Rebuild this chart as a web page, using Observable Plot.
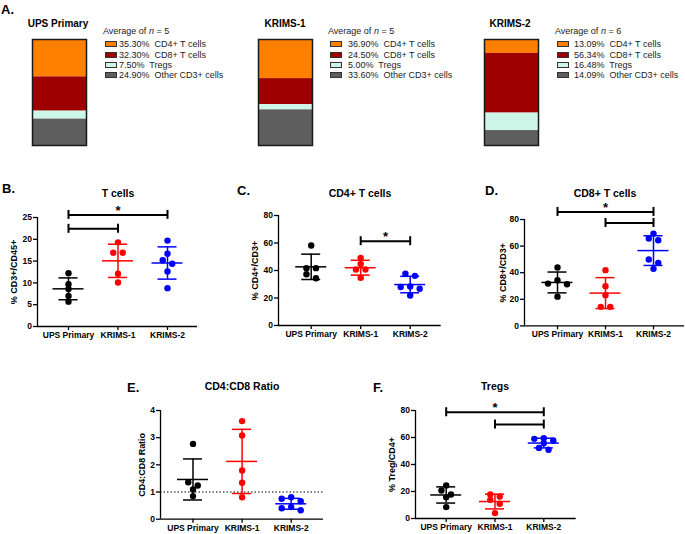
<!DOCTYPE html>
<html><head><meta charset="utf-8">
<script src="https://cdn.jsdelivr.net/npm/d3@7"></script>
<script src="https://cdn.jsdelivr.net/npm/@observablehq/plot@0.6"></script>
<style>
body{margin:0;background:#fff;}
#fig{position:relative;width:685px;height:534px;overflow:hidden;font-family:"Liberation Sans",Arial,sans-serif;color:#000;background:#fff;}
.t{position:absolute;white-space:pre;line-height:1;}
.sw{position:absolute;width:10px;height:4px;border:1px solid #333;}
</style></head>
<body><div id="fig"></div>
<script>
// ---------- data ----------
const groups = ["UPS Primary", "KRIMS-1", "KRIMS-2"];
const groupColors = ["#000000", "#ff0000", "#0000ff"];

// Panel A: average composition (%)
const cellTypes = ["CD4+ T cells", "CD8+ T cells", "Tregs", "Other CD3+ cells"];
const cellColors = ["#ff8000", "#9e0000", "#cdf6e8", "#5e5e5e"];
const compUPS = [35.30, 32.30, 7.50, 24.90];
const compKRIMS1 = [36.90, 24.50, 5.00, 33.60];
const compKRIMS2 = [13.09, 56.34, 16.48, 14.09];
const compN = [5, 5, 6];

// Panel B: % CD3+/CD45+
const tcellsPct = [[12.2, 9.7, 8.6, 7.0, 5.7], [19.3, 16.9, 16.9, 12.1, 10.1], [19.7, 16.7, 15.2, 14.4, 12.6, 8.8]];
const tcellsTicks = [0, 5, 10, 15, 20, 25];
const tcellsSig = [[0, 2, 25.6], [0, 1, 22.4]];

// Panel C: % CD4+/CD3+
const cd4Pct = [[58.2, 41.7, 41.7, 37.3, 34.4], [49.2, 44.8, 40.7, 40.7, 34.7], [37.6, 36.1, 28.4, 28.0, 26.7, 21.8]];
const cd4Ticks = [0, 20, 40, 60, 80];
const cd4Sig = [[1, 2, 61.3]];

// Panel D: % CD8+/CD3+
const cd8Pct = [[43.9, 34.3, 31.8, 31.3, 22.0], [41.9, 29.8, 23.0, 14.3, 14.3], [69.4, 65.7, 64.4, 49.9, 47.4, 42.9]];
const cd8Ticks = [0, 20, 40, 60, 80];
const cd8Sig = [[0, 2, 85.7], [1, 2, 77.4]];

// Panel E: CD4:CD8 ratio
const ratioVals = [[2.77, 1.36, 1.24, 1.09, 0.85], [3.61, 3.08, 1.79, 1.34, 0.81], [0.81, 0.75, 0.66, 0.45, 0.40, 0.33]];
const ratioTicks = [0, 1, 2, 3, 4];
const ratioSig = [];
const ratioRef = 1;

// Panel F: % Treg/CD4+
const tregPct = [[24.4, 20.7, 17.8, 15.8, 8.4], [17.8, 16.3, 13.8, 10.9, 4.0], [59.5, 59.0, 57.8, 55.8, 52.3, 50.9]];
const tregTicks = [0, 20, 40, 60, 80];
const tregSig = [[0, 2, 78.7], [1, 2, 69.6]];

// ---------- layout ----------
const FONT = '"Liberation Sans", Arial, sans-serif';
const fig = document.getElementById("fig");
function place(node, left, top) {
  node.style.position = "absolute";
  node.style.left = left + "px";
  node.style.top = top + "px";
  fig.appendChild(node);
}
function txt(str, x, y, css, anchor = "middle") {
  const d = document.createElement("div");
  d.className = "t";
  d.innerHTML = str;
  d.style.cssText += css;
  const tx = anchor === "middle" ? "-50%" : anchor === "end" ? "-100%" : "0";
  d.style.left = x + "px";
  d.style.top = y + "px";
  d.style.transform = `translate(${tx},-50%)`;
  fig.appendChild(d);
  return d;
}

// panel letters
const letterCss = "font-weight:bold;font-size:13px;";
txt("A.", 1, 9, letterCss, "start");
txt("B.", 2, 188, letterCss, "start");
txt("C.", 237, 190, letterCss, "start");
txt("D.", 485, 190, letterCss, "start");
txt("E.", 127, 387, letterCss, "start");
txt("F.", 373, 387, letterCss, "start");

// ---------- Panel A ----------
const comps = [compUPS, compKRIMS1, compKRIMS2];
const aLayout = [
  {barX: 32, titleX: 58, avgX: 103, swX: 105, txtX: 119},
  {barX: 258, titleX: 285, avgX: 328, swX: 330, txtX: 348},
  {barX: 484, titleX: 510, avgX: 555, swX: 557, txtX: 574}
];
comps.forEach((comp, gi) => {
  const L = aLayout[gi];
  const rows = comp.map((pct, k) => ({type: cellTypes[k], pct, color: cellColors[k]}));
  const svg = Plot.plot({
    width: 56, height: 108, margin: 1,
    y: {axis: null, domain: [0, 100], reverse: true},
    color: {type: "identity"},
    style: {background: "transparent", overflow: "visible"},
    marks: [
      Plot.barY(rows, {y: "pct", fill: "color"}),
      Plot.frame({stroke: "#1a1a1a", strokeWidth: 1.5})
    ]
  });
  place(svg, L.barX - 1, 38);
  txt(groups[gi], L.titleX, 23.5, "font-weight:bold;font-size:10px;");
  txt(`Average of <i>n</i> = ${compN[gi]}`, L.avgX, 31, "font-size:9px;color:#222;", "start");
  comp.forEach((pct, k) => {
    const y = 44.3 + k * 10.25;
    const s = document.createElement("div");
    s.className = "sw";
    s.style.background = cellColors[k];
    s.style.left = L.swX + "px";
    s.style.top = (y - 3) + "px";
    fig.appendChild(s);
    txt(`${pct.toFixed(2)}%  ${cellTypes[k]}`, L.txtX, y, "font-size:9px;color:#222;", "start");
  });
});

// ---------- scatter panels ----------
function rowOffsets(vals, ppu, T, s) {
  const idx = vals.map((v, i) => i).sort((a, b) => vals[b] - vals[a]);
  const off = new Array(vals.length).fill(0);
  let row = [];
  const flush = () => {
    const n = row.length;
    const order = n % 2 ? [0, -1, 1, -2, 2, -3, 3] : [-0.5, 0.5, -1.5, 1.5, -2.5, 2.5];
    row.forEach((i, k) => off[i] = order[k] * s);
    row = [];
  };
  for (const i of idx) {
    if (row.length && (vals[row[0]] - vals[i]) * ppu >= T) flush();
    row.push(i);
  }
  flush();
  return off;
}

function scatterPanel({values, ticks, ylabel, sig, refLine, title, L}) {
  const ymax = ticks[ticks.length - 1];
  const ML = 36, MT = 26, MR = 3, MB = 18;
  const plotW = L.xEnd - L.axisX, plotH = L.yBottom - L.yTop;
  const ppu = plotH / ymax;
  const x0 = (L.axisX - L.cat0) / L.step, x1 = (L.xEnd - L.cat0) / L.step;
  const w = px => px / L.step;
  const h = px => px / ppu;
  const pts = [];
  values.forEach((vals, g) => {
    const off = rowOffsets(vals, ppu, 4.5, 9.5);
    vals.forEach((v, i) => pts.push({g, v, x: g + w(off[i]), color: groupColors[g]}));
  });
  const stats = values.map((vals, g) => ({g, mean: d3.mean(vals), sd: d3.deviation(vals), color: groupColors[g]}));
  const marks = [
    Plot.ruleY([0], {strokeWidth: 1.3}),
    Plot.ruleX([x0], {y1: 0, y2: ymax, strokeWidth: 1.3}),
    Plot.axisY({ticks, tickFormat: d => String(d), tickSize: 4, tickPadding: 1.5, label: null, strokeWidth: 1.3}),
    Plot.axisX({ticks: [0, 1, 2], tickFormat: i => groups[i], tickSize: 4, tickPadding: 1.5, label: null, strokeWidth: 1.3}),
    Plot.text([ylabel], {frameAnchor: "left", textAnchor: "middle", rotate: -90, dx: L.labelX - L.axisX, fontSize: 9, fontWeight: "bold"})
  ];
  if (refLine != null) marks.push(Plot.ruleY([refLine], {strokeDasharray: "1.5,2", strokeWidth: 1.2}));
  marks.push(
    Plot.dot(pts, {x: "x", y: "v", r: 3.2, fill: "color"}),
    Plot.ruleX(stats, {x: "g", y1: d => d.mean - d.sd, y2: d => d.mean + d.sd, stroke: "color", strokeWidth: 1.5}),
    Plot.ruleY(stats, {y: "mean", x1: d => d.g - w(15.5), x2: d => d.g + w(15.5), stroke: "color", strokeWidth: 1.5}),
    Plot.ruleY(stats, {y: d => d.mean + d.sd, x1: d => d.g - w(9.5), x2: d => d.g + w(9.5), stroke: "color", strokeWidth: 1.5}),
    Plot.ruleY(stats, {y: d => d.mean - d.sd, x1: d => d.g - w(9.5), x2: d => d.g + w(9.5), stroke: "color", strokeWidth: 1.5})
  );
  if (sig.length) {
    const top = sig.reduce((a, b) => (b[2] > a[2] ? b : a));
    marks.push(
      Plot.ruleY(sig, {y: d => d[2], x1: d => d[0], x2: d => d[1], strokeWidth: 2}),
      Plot.ruleX(sig, {x: d => d[0], y1: d => d[2] - h(4.5), y2: d => d[2] + h(4.5), strokeWidth: 2}),
      Plot.ruleX(sig, {x: d => d[1], y1: d => d[2] - h(4.5), y2: d => d[2] + h(4.5), strokeWidth: 2}),
      Plot.text([top], {x: d => (d[0] + d[1]) / 2, y: d => d[2], text: () => "*", dy: -4, fontSize: 13, fontWeight: "bold"})
    );
  }
  const svg = Plot.plot({
    width: ML + plotW + MR, height: MT + plotH + MB,
    marginLeft: ML, marginRight: MR, marginTop: MT, marginBottom: MB,
    x: {domain: [x0, x1]},
    y: {domain: [0, ymax]},
    color: {type: "identity"},
    style: {fontFamily: FONT, fontSize: "8.5px", fontWeight: "bold", overflow: "visible", background: "transparent", color: "#000"},
    marks
  });
  place(svg, L.axisX - ML, L.yTop - MT);
  txt(title, L.titleX, L.titleY, "font-weight:bold;font-size:10.5px;");
}

scatterPanel({values: tcellsPct, ticks: tcellsTicks, ylabel: "% CD3+/CD45+", sig: tcellsSig, title: "T cells",
  L: {axisX: 37, xEnd: 197, cat0: 68, step: 49.5, yTop: 216.7, yBottom: 325.7, labelX: 14, titleX: 118, titleY: 193}});
scatterPanel({values: cd4Pct, ticks: cd4Ticks, ylabel: "% CD4+/CD3+", sig: cd4Sig, title: "CD4+ T cells",
  L: {axisX: 278.3, xEnd: 441, cat0: 311, step: 49.5, yTop: 215, yBottom: 325, labelX: 255, titleX: 360, titleY: 193}});
scatterPanel({values: cd8Pct, ticks: cd8Ticks, ylabel: "% CD8+/CD3+", sig: cd8Sig, title: "CD8+ T cells",
  L: {axisX: 524, xEnd: 684, cat0: 557, step: 48, yTop: 219.3, yBottom: 325.7, labelX: 503, titleX: 605, titleY: 193}});
scatterPanel({values: ratioVals, ticks: ratioTicks, ylabel: "CD4:CD8 Ratio", sig: ratioSig, refLine: ratioRef, title: "CD4:CD8 Ratio",
  L: {axisX: 160, xEnd: 323, cat0: 192.5, step: 49.1, yTop: 410, yBottom: 518.7, labelX: 142, titleX: 242, titleY: 386}});
scatterPanel({values: tregPct, ticks: tregTicks, ylabel: "% Treg/CD4+", sig: tregSig, title: "Tregs",
  L: {axisX: 415, xEnd: 575.7, cat0: 445.7, step: 48.8, yTop: 410, yBottom: 518, labelX: 392, titleX: 495, titleY: 386}});
</script>
</body></html>
